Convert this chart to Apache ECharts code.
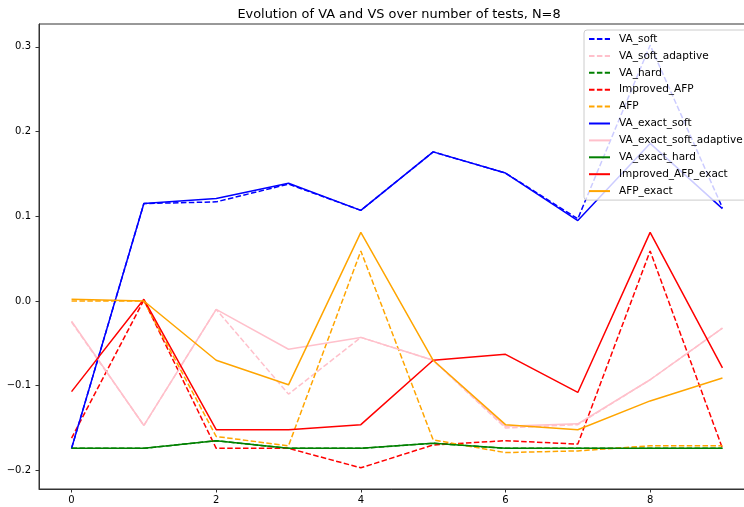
<!DOCTYPE html>
<html>
<head>
<meta charset="utf-8">
<script src="https://cdn.jsdelivr.net/npm/echarts@6/dist/echarts.min.js"></script>
<style>
  html, body { margin: 0; padding: 0; background: #fff; }
  #chart { width: 744px; height: 507px; }
</style>
</head>
<body>
<div id="chart"></div>
<script>
// test index 0..9
const xValues = [0, 1, 2, 3, 4, 5, 6, 7, 8, 9];
const xTicks = [0, 2, 4, 6, 8];
const yTicks = [-0.2, -0.1, 0.0, 0.1, 0.2, 0.3];

// dashed series
const vaSoft = [-0.174, 0.115, 0.117, 0.138, 0.107, 0.176, 0.151, 0.097, 0.302, 0.110];
const vaSoftAdaptive = [-0.025, -0.147, -0.010, -0.110, -0.043, -0.070, -0.150, -0.146, -0.093, -0.032];
const vaHard = [-0.174, -0.174, -0.165, -0.174, -0.174, -0.168, -0.174, -0.174, -0.174, -0.174];
const improvedAfp = [-0.162, 0.001, -0.174, -0.174, -0.197, -0.170, -0.165, -0.169, 0.059, -0.174];
const afp = [0.000, 0.000, -0.160, -0.171, 0.059, -0.164, -0.179, -0.177, -0.171, -0.171];

// solid series (exact)
const vaExactSoft = [-0.174, 0.115, 0.121, 0.139, 0.107, 0.176, 0.151, 0.095, 0.186, 0.109];
const vaExactSoftAdaptive = [-0.024, -0.147, -0.010, -0.057, -0.043, -0.070, -0.148, -0.145, -0.093, -0.032];
const vaExactHard = [-0.174, -0.174, -0.165, -0.174, -0.174, -0.168, -0.174, -0.174, -0.174, -0.174];
const improvedAfpExact = [-0.107, 0.002, -0.152, -0.152, -0.146, -0.070, -0.063, -0.108, 0.081, -0.079];
const afpExact = [0.002, 0.000, -0.070, -0.099, 0.081, -0.070, -0.146, -0.152, -0.118, -0.091];

const FONT = "DejaVu Sans";

function line(name, values, color, dashed) {
  return {
    name: name,
    type: "line",
    data: xValues.map((x, i) => [x, values[i]]),
    symbol: "none",
    showSymbol: false,
    lineStyle: {
      color: color,
      width: 1.5,
      type: dashed ? [5.5, 2.4] : "solid",
    },
    itemStyle: { color: color },
  };
}

const series = [
  line("VA_soft", vaSoft, "#0000ff", true),
  line("VA_soft_adaptive", vaSoftAdaptive, "#ffc0cb", true),
  line("VA_hard", vaHard, "#008000", true),
  line("Improved_AFP", improvedAfp, "#ff0000", true),
  line("AFP", afp, "#ffa500", true),
  line("VA_exact_soft", vaExactSoft, "#0000ff", false),
  line("VA_exact_soft_adaptive", vaExactSoftAdaptive, "#ffc0cb", false),
  line("VA_exact_hard", vaExactHard, "#008000", false),
  line("Improved_AFP_exact", improvedAfpExact, "#ff0000", false),
  line("AFP_exact", afpExact, "#ffa500", false),
];

const chart = echarts.init(document.getElementById("chart"));
chart.setOption({
  animation: false,
  backgroundColor: "#fff",
  title: {
    text: "Evolution of VA and VS over number of tests, N=8",
    left: 394,
    top: 3,
    textAlign: "center",
    textStyle: { fontFamily: FONT, fontSize: 12.9, fontWeight: "normal", color: "#000" },
  },
  legend: {
    orient: "vertical",
    left: 584,
    top: 30,
    padding: [3, 4, 3, 4],
    itemWidth: 21,
    itemHeight: 12,
    itemGap: 4.9,
    backgroundColor: "rgba(255,255,255,0.8)",
    borderColor: "#cccccc",
    borderWidth: 1,
    borderRadius: 3,
    itemStyle: { opacity: 0 },
    lineStyle: { width: 2 },
    textStyle: { fontFamily: FONT, fontSize: 10.5, color: "#000", lineHeight: 12, padding: [0, 0, 0, 4] },
    data: series.map(s => s.name),
  },
  grid: {
    left: 39,
    right: -11,
    top: 24,
    bottom: 18,
    show: true,
    borderColor: "#333",
    borderWidth: 1,
    outerBoundsMode: "none",
  },
  xAxis: {
    type: "value",
    min: -0.45,
    max: 9.45,
    splitLine: { show: false },
    axisLine: { show: true, onZero: false, lineStyle: { color: "#333" } },
    axisTick: { show: true, length: 3.5, customValues: xTicks, lineStyle: { color: "#333" } },
    axisLabel: {
      customValues: xTicks,
      margin: 6,
      fontFamily: FONT,
      fontSize: 10,
      color: "#000",
    },
  },
  yAxis: {
    type: "value",
    min: -0.222,
    max: 0.327,
    splitLine: { show: false },
    axisLine: { show: true, onZero: false, lineStyle: { color: "#333" } },
    axisTick: { show: true, length: 3.5, customValues: yTicks, lineStyle: { color: "#333" } },
    axisLabel: {
      customValues: yTicks,
      margin: 8,
      fontFamily: FONT,
      fontSize: 10,
      color: "#000",
      formatter: v => v.toFixed(1).replace("-", "\u2212"),
    },
  },
  series: series,
});
</script>
</body>
</html>
